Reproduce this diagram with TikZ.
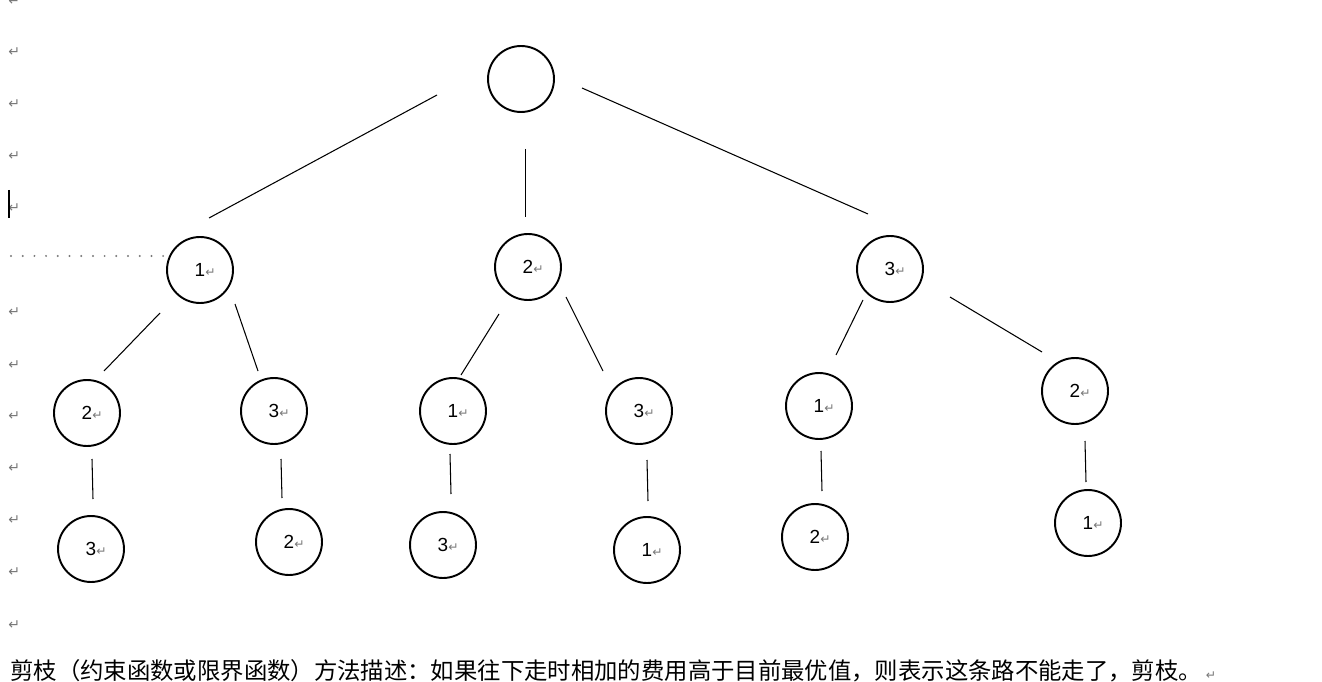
\documentclass[tikz,border=0pt]{standalone}
\usepackage{fontspec}
\setmainfont{Liberation Sans}
\newfontfamily\cjk{Noto Sans CJK SC}
\newfontfamily\symf{DejaVu Sans}
\definecolor{markgray}{RGB}{120,120,120}
\newcommand{\pmark}{{\symf\color{markgray}\fontsize{7pt}{7pt}\selectfont\char"21B5}}
\newcommand{\bigpmark}{{\symf\color{markgray}\fontsize{8pt}{8pt}\selectfont\char"21B5}}
\newcommand{\numtxt}[1]{\phantom{\pmark}#1\pmark}
\tikzset{
  vertex/.style={circle,draw,line width=1.1pt,minimum size=1.32cm,inner sep=0pt,font=\fontsize{10.8pt}{12pt}\selectfont},
  edge/.style={line width=0.6pt},
}
\begin{document}
\begin{tikzpicture}[x=0.02cm,y=-0.02cm]
        \useasboundingbox (0,0) rectangle (1322,682);
        % paragraph marks down the left margin
        \foreach \y in {1,52,104,156,208,312,365,416,468,520,572,625}
            \node[anchor=west,inner sep=0pt] at (8,\y) {\bigpmark};
        \draw[line width=0.8pt] (9,190) -- (9,218);
        \foreach \x in {0,...,13}
            \fill[markgray] (11+\x*11.7,256) circle (1.1);
        % nodes
        \node[vertex] (R) at (521,79) {};
        \node[vertex] (A) at (200,270) {\numtxt{1}};
        \node[vertex] (B) at (528,267) {\numtxt{2}};
        \node[vertex] (C) at (890,269) {\numtxt{3}};
        \node[vertex] (AB) at (87,413) {\numtxt{2}};
        \node[vertex] (AC) at (274,411) {\numtxt{3}};
        \node[vertex] (BA) at (453,411) {\numtxt{1}};
        \node[vertex] (BC) at (639,411) {\numtxt{3}};
        \node[vertex] (CA) at (819,406) {\numtxt{1}};
        \node[vertex] (CB) at (1075,391) {\numtxt{2}};
        \node[vertex] (ABC) at (91,549) {\numtxt{3}};
        \node[vertex] (ACB) at (289,542) {\numtxt{2}};
        \node[vertex] (BAC) at (443,545) {\numtxt{3}};
        \node[vertex] (BCA) at (647,550) {\numtxt{1}};
        \node[vertex] (CAB) at (815,537) {\numtxt{2}};
        \node[vertex] (CBA) at (1088,523) {\numtxt{1}};
        % loose line ends
        \coordinate (R1) at (437,95);   \coordinate (A0) at (209,218);
        \coordinate (R2) at (525.5,149);  \coordinate (B0) at (525.5,217);
        \coordinate (R3) at (582,88);   \coordinate (C0) at (868,214);
        \coordinate (A1) at (160,313);  \coordinate (AB0) at (104,371);
        \coordinate (A2) at (235,304);  \coordinate (AC0) at (258,371);
        \coordinate (B1) at (499,314);  \coordinate (BA0) at (461,375);
        \coordinate (B2) at (566,297);  \coordinate (BC0) at (603,371);
        \coordinate (C1) at (863,300);  \coordinate (CA0) at (836,355);
        \coordinate (C2) at (950,297);  \coordinate (CB0) at (1042,352);
        \coordinate (AB1) at (92,459);  \coordinate (ABC0) at (93,499);
        \coordinate (AC1) at (281,459); \coordinate (ACB0) at (282,498);
        \coordinate (BA1) at (450,454); \coordinate (BAC0) at (451,494);
        \coordinate (BC1) at (647,460); \coordinate (BCA0) at (648,501);
        \coordinate (CA1) at (821,451); \coordinate (CAB0) at (822,491);
        \coordinate (CB1) at (1085,441);\coordinate (CBA0) at (1086,482);
        \foreach \s/\t in {R1/A0,R2/B0,R3/C0,A1/AB0,A2/AC0,B1/BA0,B2/BC0,C1/CA0,C2/CB0,
                           AB1/ABC0,AC1/ACB0,BA1/BAC0,BC1/BCA0,CA1/CAB0,CB1/CBA0}
            \draw[edge] (\s) -- (\t);
        \node[anchor=west,inner sep=0pt] (note) at (10,671)
            {\cjk\fontsize{13.3pt}{14pt}\selectfont 剪枝（约束函数或限界函数）方法描述：如果往下走时相加的费用高于目前最优值，则表示这条路不能走了，剪枝。\,\pmark};
        \end{tikzpicture}
\end{document}
